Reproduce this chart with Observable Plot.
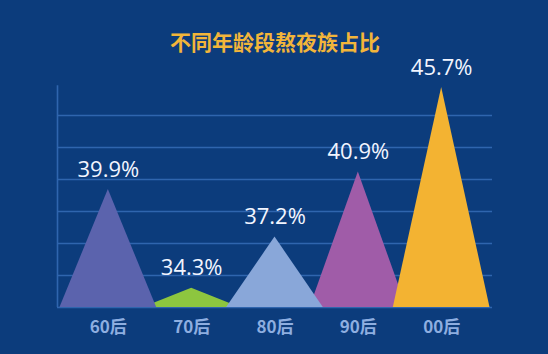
<!DOCTYPE html>
<html>
<head>
<meta charset="utf-8">
<script src="https://cdn.jsdelivr.net/npm/d3@7"></script>
<script src="https://cdn.jsdelivr.net/npm/@observablehq/plot@0.6"></script>
<style>
  html, body { margin: 0; padding: 0; background: #0c3c7c; }
  #chart svg { display: block; }
</style>
</head>
<body>
<div id="chart"></div>
<script>
const title = "不同年龄段熬夜族占比";
const categories = ["60后", "70后", "80后", "90后", "00后"];
const values = [39.9, 34.3, 37.2, 40.9, 45.7];
const colors = ["#5b63ad", "#8dc63f", "#89a7d9", "#a05ca8", "#f3b332"];
// drawing order (back to front)
const drawOrder = ["70后", "90后", "60后", "80后", "00后"];

const yMin = 33.2, yMax = 45.7;
const halfWidth = 0.58;

const rows = categories.map((c, i) => ({cat: c, i, v: values[i]}));
const tri = [];
for (const c of drawOrder) {
  const r = rows.find(d => d.cat === c);
  tri.push({cat: c, x: r.i - halfWidth, y: yMin});
  tri.push({cat: c, x: r.i, y: r.v});
  tri.push({cat: c, x: r.i + halfWidth, y: yMin});
}
const gridVals = d3.range(0, 7).map(k => yMin + k * (yMax - yMin) * 32 / 220);

const chart = Plot.plot({
  width: 548,
  height: 354,
  marginTop: 87,
  marginBottom: 47,
  marginLeft: 57,
  marginRight: 56,
  style: {background: "#0c3c7c", overflow: "visible"},
  x: {domain: [-0.61, 4.61], axis: null},
  y: {domain: [yMin, yMax], axis: null},
  color: {domain: categories, range: colors},
  marks: [
    Plot.ruleY(gridVals, {stroke: "#2f65ae", strokeWidth: 1.6}),
    Plot.ruleX([-0.61], {y1: yMin, y2: yMax + 0.1, stroke: "#2f65ae", strokeWidth: 1.6}),
    Plot.areaY(tri, {x: "x", y1: yMin, y2: "y", z: "cat", fill: "cat", curve: "linear"}),
    Plot.text(rows, {x: "i", y: "v", dy: -20, text: d => d.v.toFixed(1) + "%",
      fill: "#f2f5ff", fontSize: 22, fontFamily: "Open Sans, sans-serif"}),
    Plot.text(rows, {x: "i", text: "cat", frameAnchor: "bottom", dy: 25,
      fill: "#8eaee0", fontSize: 17, fontWeight: "bold",
      fontFamily: "Noto Sans CJK SC, sans-serif"}),
    Plot.text([title], {frameAnchor: "top", dy: -52, text: d => d,
      fill: "#f2b53a", fontSize: 21, fontWeight: "bold",
      fontFamily: "Noto Sans CJK SC, sans-serif"})
  ]
});
document.getElementById("chart").appendChild(chart);
</script>
</body>
</html>
